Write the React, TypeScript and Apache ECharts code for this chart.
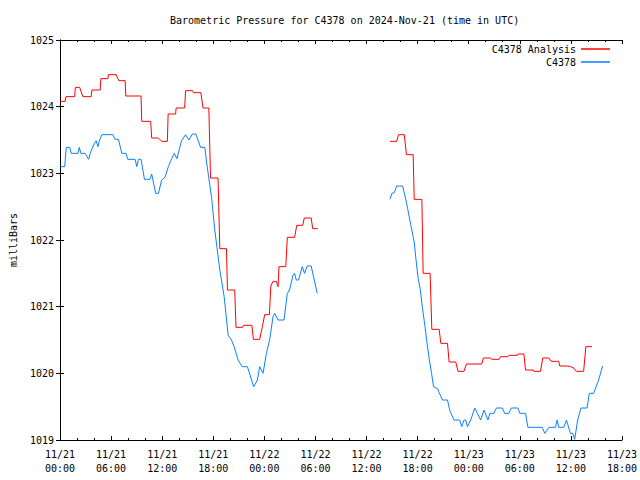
import React, { useEffect, useRef } from "react";
import * as echarts from "echarts";

// Hours since 2024-11-21 00:00 UTC, pressure in millibars
const analysisPart1: [number, number][] = [
  [0.0, 1024.08], [0.62, 1024.08], [0.7, 1024.15], [1.72, 1024.15], [1.81, 1024.29], [2.31, 1024.29],
  [2.69, 1024.15], [3.66, 1024.15], [3.75, 1024.25], [4.72, 1024.25], [4.8, 1024.42], [5.62, 1024.42],
  [5.68, 1024.48], [6.59, 1024.48], [6.91, 1024.39], [7.65, 1024.39], [7.73, 1024.16], [9.52, 1024.16],
  [9.6, 1023.78], [10.65, 1023.78], [10.77, 1023.53], [11.56, 1023.53], [11.94, 1023.48], [12.61, 1023.48],
  [12.7, 1023.89], [13.58, 1023.89], [13.64, 1023.98], [14.64, 1023.98], [14.75, 1024.24], [15.57, 1024.24],
  [15.69, 1024.21], [16.54, 1024.21], [16.8, 1023.98], [17.48, 1023.98], [17.68, 1022.93], [18.56, 1022.93],
  [18.77, 1021.87], [19.55, 1021.87], [19.67, 1021.25], [20.52, 1021.25], [20.67, 1020.69], [21.43, 1020.69],
  [21.54, 1020.72], [22.54, 1020.72], [22.71, 1020.51], [23.45, 1020.51], [23.77, 1020.7], [24.04, 1020.88],
  [24.59, 1020.88], [24.76, 1021.31], [25.02, 1021.38], [25.41, 1021.38], [25.61, 1021.3], [25.72, 1021.6],
  [26.52, 1021.6], [26.7, 1022.04], [27.55, 1022.04], [27.81, 1022.22], [28.51, 1022.22], [28.69, 1022.33],
  [29.5, 1022.33], [29.68, 1022.17], [30.27, 1022.17],
];

const analysisPart2: [number, number][] = [
  [38.75, 1023.48], [39.54, 1023.48], [39.77, 1023.58], [40.43, 1023.58], [40.69, 1023.28], [41.48, 1023.28],
  [41.6, 1022.61], [42.5, 1022.61], [42.65, 1021.5], [43.47, 1021.5], [43.67, 1020.66], [44.53, 1020.66],
  [44.73, 1020.45], [45.51, 1020.45], [45.7, 1020.17], [46.48, 1020.17], [46.75, 1020.03], [47.45, 1020.03],
  [47.73, 1020.14], [49.53, 1020.14], [49.73, 1020.23], [50.58, 1020.23], [50.7, 1020.21], [51.55, 1020.21],
  [51.75, 1020.25], [52.61, 1020.25], [52.72, 1020.27], [53.71, 1020.27], [53.78, 1020.29], [54.48, 1020.29],
  [54.68, 1020.05], [55.58, 1020.05], [55.65, 1020.03], [56.43, 1020.03], [56.7, 1020.23], [57.41, 1020.23],
  [57.69, 1020.18], [58.58, 1020.18], [58.7, 1020.11], [59.56, 1020.11], [59.95, 1020.1], [60.33, 1020.08],
  [60.65, 1020.03], [61.5, 1020.03], [61.76, 1020.4], [62.49, 1020.4],
];

const stationPart1: [number, number][] = [
  [0.04, 1023.1], [0.55, 1023.1], [0.74, 1023.39], [1.14, 1023.39], [1.32, 1023.3], [2.11, 1023.3],
  [2.26, 1023.39], [2.46, 1023.3], [2.96, 1023.3], [3.36, 1023.21], [3.55, 1023.3], [3.86, 1023.4],
  [4.25, 1023.49], [4.45, 1023.4], [4.65, 1023.5], [4.92, 1023.58], [6.21, 1023.58], [6.47, 1023.51],
  [6.87, 1023.51], [7.26, 1023.3], [7.76, 1023.3], [7.96, 1023.21], [8.82, 1023.21], [9.02, 1023.1],
  [9.21, 1023.21], [9.52, 1023.21], [9.92, 1022.91], [10.57, 1022.91], [10.77, 1022.99], [11.24, 1022.7],
  [11.56, 1022.7], [11.94, 1022.9], [12.33, 1022.94], [12.73, 1023.1], [13.11, 1023.22], [13.43, 1023.3],
  [13.73, 1023.22], [14.28, 1023.49], [14.75, 1023.58], [15.14, 1023.5], [15.54, 1023.59], [15.96, 1023.59],
  [16.51, 1023.39], [17.01, 1023.39], [17.21, 1023.17], [17.8, 1022.64], [18.18, 1022.15], [18.77, 1021.55],
  [19.28, 1021.15], [19.75, 1020.57], [20.14, 1020.5], [20.45, 1020.4], [20.92, 1020.2], [21.39, 1020.1],
  [22.01, 1020.1], [22.75, 1019.8], [23.18, 1019.9], [23.45, 1020.1], [23.85, 1020.0], [24.24, 1020.3],
  [24.62, 1020.5], [25.02, 1020.85], [25.21, 1020.9], [25.61, 1020.8], [26.31, 1020.8], [26.7, 1021.2],
  [26.96, 1021.25], [27.36, 1021.47], [27.55, 1021.5], [27.75, 1021.4], [28.02, 1021.4], [28.45, 1021.6],
  [28.72, 1021.5], [29.04, 1021.61], [29.5, 1021.61], [30.21, 1021.2],
];

const stationPart2: [number, number][] = [
  [38.75, 1022.61], [38.99, 1022.7], [39.26, 1022.71], [39.54, 1022.81], [40.24, 1022.81], [40.63, 1022.6],
  [40.83, 1022.47], [41.21, 1022.22], [41.6, 1021.97], [41.8, 1021.72], [42.07, 1021.42], [42.3, 1021.27],
  [42.58, 1020.97], [42.85, 1020.72], [43.09, 1020.47], [43.36, 1020.22], [43.64, 1020.0], [43.87, 1019.8],
  [44.34, 1019.77], [44.53, 1019.71], [44.92, 1019.6], [45.51, 1019.6], [45.81, 1019.43], [46.28, 1019.3],
  [46.95, 1019.3], [47.18, 1019.2], [47.45, 1019.3], [47.65, 1019.3], [47.85, 1019.2], [48.24, 1019.3],
  [48.71, 1019.48], [49.02, 1019.4], [49.41, 1019.3], [49.8, 1019.45], [50.26, 1019.3], [50.5, 1019.4],
  [50.97, 1019.4], [51.25, 1019.48], [51.95, 1019.48], [52.22, 1019.4], [52.72, 1019.4], [53.0, 1019.48],
  [53.78, 1019.48], [54.01, 1019.4], [54.68, 1019.4], [54.95, 1019.19], [56.63, 1019.19], [56.94, 1019.1],
  [57.41, 1019.19], [58.19, 1019.19], [58.39, 1019.3], [58.58, 1019.19], [59.17, 1019.19], [59.48, 1019.3],
  [59.95, 1019.1], [60.22, 1019.1], [60.45, 1019.01], [60.8, 1019.3], [61.19, 1019.48], [61.9, 1019.48],
  [62.17, 1019.7], [62.67, 1019.7], [63.26, 1019.9], [63.73, 1020.11],
];

const xTickLabels = [
  "11/21\n00:00", "11/21\n06:00", "11/21\n12:00", "11/21\n18:00",
  "11/22\n00:00", "11/22\n06:00", "11/22\n12:00", "11/22\n18:00",
  "11/23\n00:00", "11/23\n06:00", "11/23\n12:00", "11/23\n18:00",
];

const titleText = "Barometric Pressure for C4378 on 2024-Nov-21 (time in UTC)";
const analysisName = "C4378 Analysis";
const stationName = "C4378";

const FONT = "DejaVu Sans Mono";
const RED = "#ff0000";
const BLUE = "#0a80ff";

export default function App() {
  const ref = useRef<HTMLDivElement>(null);

  useEffect(() => {
    if (!ref.current) return;
    const chart = echarts.init(ref.current, undefined, { renderer: "svg" });
    const axisLine = { show: true, lineStyle: { color: "#000", width: 1 } };
    const xCommon = {
      type: "value" as const,
      min: 0,
      max: 66,
      interval: 6,
      axisLine,
      axisTick: { show: true, inside: true, length: 4, lineStyle: { color: "#000" } },
      minorTick: { show: true, splitNumber: 3, length: 2, lineStyle: { color: "#000" } },
      splitLine: { show: false },
    };
    const yCommon = {
      type: "value" as const,
      min: 1019,
      max: 1025,
      interval: 1,
      axisLine,
      axisTick: { show: true, inside: true, length: 4, lineStyle: { color: "#000" } },
      splitLine: { show: false },
    };
    const lineSeries = (name: string, data: [number, number][], color: string) => ({
      name,
      type: "line" as const,
      data,
      xAxisIndex: 0,
      yAxisIndex: 0,
      symbol: "none",
      showSymbol: false,
      lineStyle: { color, width: 1 },
      itemStyle: { color },
      silent: true,
    });
    const legendCommon = {
      orient: "horizontal" as const,
      align: "right" as const,
      right: 30,
      padding: 0,
      icon: "rect",
      itemWidth: 29,
      itemHeight: 1.5,
      textStyle: { fontFamily: FONT, fontSize: 10, color: "#000", lineHeight: 12 },
      selectedMode: false,
    };
    chart.setOption({
      animation: false,
      backgroundColor: "#fff",
      textStyle: { fontFamily: FONT },
      title: {
        text: titleText,
        left: 165,
        top: 10,
        textStyle: { fontFamily: FONT, fontSize: 10, fontWeight: "normal", color: "#000" },
      },
      legend: [
        { ...legendCommon, top: 43, data: [analysisName] },
        { ...legendCommon, top: 56, data: [stationName] },
      ],
      grid: { left: 58, right: 18, top: 40, bottom: 40 },
      xAxis: [
        {
          ...xCommon,
          position: "bottom",
          axisLabel: {
            show: true,
            margin: 7,
            fontFamily: FONT,
            fontSize: 10,
            lineHeight: 14,
            color: "#000",
            formatter: (v: number) => xTickLabels[Math.round(v / 6)] ?? "",
          },
        },
        { ...xCommon, position: "top", axisLabel: { show: false } },
      ],
      yAxis: [
        {
          ...yCommon,
          position: "left",
          name: "milliBars",
          nameLocation: "middle",
          nameRotate: 90,
          nameGap: 42,
          nameTextStyle: { fontFamily: FONT, fontSize: 10, color: "#000" },
          axisLabel: {
            show: true,
            margin: 6,
            fontFamily: FONT,
            fontSize: 10,
            color: "#000",
            formatter: (v: number) => String(v),
          },
        },
        { ...yCommon, position: "right", axisLabel: { show: false } },
      ],
      series: [
        lineSeries(analysisName, analysisPart1, RED),
        lineSeries(analysisName, analysisPart2, RED),
        lineSeries(stationName, stationPart1, BLUE),
        lineSeries(stationName, stationPart2, BLUE),
      ],
    });
    return () => chart.dispose();
  }, []);

  return (
    <div
      ref={ref}
      style={{ position: "absolute", left: 0, top: 0, width: 640, height: 480, background: "#fff" }}
    />
  );
}
